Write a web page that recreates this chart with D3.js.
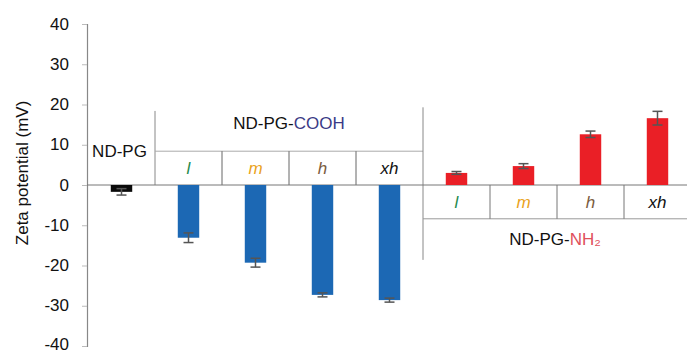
<!DOCTYPE html>
<html>
<head>
<meta charset="utf-8">
<script src="https://cdn.jsdelivr.net/npm/d3@7"></script>
<style>
body { margin: 0; background: #fff; }
svg { font-family: "Liberation Sans", Arial, sans-serif; }
</style>
</head>
<body>
<svg id="chart" width="687" height="353"></svg>
<script>
// data
var categories = ["ND-PG", "COOH-l", "COOH-m", "COOH-h", "COOH-xh", "NH2-l", "NH2-m", "NH2-h", "NH2-xh"];
var subLabels = ["", "l", "m", "h", "xh", "l", "m", "h", "xh"];
var values = [-1.7, -13.1, -19.3, -27.3, -28.6, 3.0, 4.7, 12.6, 16.6];
var errors = [0.8, 1.2, 1.1, 0.5, 0.5, 0.35, 0.6, 0.8, 1.7];
var yTicks = [40, 30, 20, 10, 0, -10, -20, -30, -40];

var barColor = {"ND-PG": "#0a0a0a", "COOH": "#1c68b4", "NH2": "#ea1f26"};
var labelColor = {"l": "#1e8a4c", "m": "#eaa21c", "h": "#7b5c40", "xh": "#111"};

var svg = d3.select("#chart");

var y = d3.scaleLinear().domain([-40, 40]).range([346, 24]);
var x = d3.scaleBand().domain(categories).range([88, 691]);
var bw = x.bandwidth() * 0.32;

// y axis
var yAxis = svg.append("g")
	.attr("transform", "translate(87,0)")
	.call(d3.axisLeft(y).tickValues(yTicks).tickSize(5).tickPadding(13)
		.tickFormat(function(d) { return String(d); }));
yAxis.select(".domain").attr("stroke", "#888").attr("stroke-width", 1.2);
yAxis.selectAll(".tick line").attr("stroke", "#bbb");
yAxis.selectAll(".tick text")
	.attr("font-size", 17)
	.attr("fill", "#111")
	.attr("dy", function(d) { return d === -40 ? "0.18em" : "0.3em"; })
	.attr("font-family", "Liberation Sans, Arial, sans-serif");

svg.append("text")
	.attr("transform", "translate(28," + y(3) + ") rotate(-90)")
	.attr("text-anchor", "middle")
	.attr("font-size", 17)
	.attr("fill", "#111")
	.text("Zeta potential (mV)");

// table lines (group labels)
var line = function(x1, y1, x2, y2, c) {
	svg.append("line")
		.attr("x1", x1).attr("y1", y1).attr("x2", x2).attr("y2", y2)
		.attr("stroke", c || "#888").attr("stroke-width", 1);
};
var xStart = x("COOH-l");
var xMid = x("NH2-l");
line(xStart, y(18.4), xStart, y(0));
line(xStart, y(8.4), xMid, y(8.4), "#aaa");
line(xMid, y(19.3), xMid, y(-18.6));
line(xMid, y(-8.4), 687, y(-8.4), "#999");
["COOH-m", "COOH-h", "COOH-xh"].forEach(function(k) {
	line(x(k), y(8.4), x(k), y(0), "#666");
});
["NH2-m", "NH2-h", "NH2-xh"].forEach(function(k) {
	line(x(k), y(0), x(k), y(-8.4), "#777");
});

// zero line
line(87, y(0), 687, y(0), "#777");

// bars
var group = function(k) { return k.split("-")[0] === "ND" ? "ND-PG" : k.split("-")[0]; };
svg.selectAll("rect.bar")
	.data(categories)
	.enter().append("rect")
	.attr("class", "bar")
	.attr("x", function(d) { return x(d) + x.bandwidth() / 2 - bw / 2; })
	.attr("width", bw)
	.attr("y", function(d, i) { return y(Math.max(0, values[i])); })
	.attr("height", function(d, i) { return Math.abs(y(values[i]) - y(0)); })
	.attr("fill", function(d) { return barColor[group(d)]; });

// error bars
var eb = svg.selectAll("g.err")
	.data(categories)
	.enter().append("g")
	.attr("class", "err")
	.attr("stroke", "#555")
	.attr("stroke-width", 1.5);
eb.append("line")
	.attr("x1", function(d) { return x(d) + x.bandwidth() / 2; })
	.attr("x2", function(d) { return x(d) + x.bandwidth() / 2; })
	.attr("y1", function(d, i) { return y(values[i] + errors[i]); })
	.attr("y2", function(d, i) { return y(values[i] - errors[i]); });
[1, -1].forEach(function(s) {
	eb.append("line")
		.attr("x1", function(d) { return x(d) + x.bandwidth() / 2 - 5; })
		.attr("x2", function(d) { return x(d) + x.bandwidth() / 2 + 5; })
		.attr("y1", function(d, i) { return y(values[i] + s * errors[i]); })
		.attr("y2", function(d, i) { return y(values[i] + s * errors[i]); });
});

// sub labels in the table cells
svg.selectAll("text.sub")
	.data(categories.slice(1))
	.enter().append("text")
	.attr("class", "sub")
	.attr("x", function(d) { return x(d) + x.bandwidth() / 2; })
	.attr("y", function(d) { return group(d) === "COOH" ? y(4.2) + 6 : y(-4.2) + 6; })
	.attr("text-anchor", "middle")
	.attr("font-size", 17)
	.attr("font-style", "italic")
	.attr("fill", function(d, i) { return labelColor[subLabels[i + 1]]; })
	.text(function(d, i) { return subLabels[i + 1]; });

// group titles
svg.append("text")
	.attr("x", x("ND-PG") + x.bandwidth() / 2 - 2)
	.attr("y", y(6.9))
	.attr("text-anchor", "middle")
	.attr("font-size", 17)
	.attr("fill", "#111")
	.text("ND-PG");

var t1 = svg.append("text")
	.attr("x", (xStart + xMid) / 2)
	.attr("y", y(13.8))
	.attr("text-anchor", "middle")
	.attr("font-size", 17)
	.attr("fill", "#111");
t1.append("tspan").text("ND-PG-");
t1.append("tspan").attr("fill", "#3b3a86").text("COOH");

var t2 = svg.append("text")
	.attr("x", (xMid + 691) / 2 - 2)
	.attr("y", y(-15))
	.attr("text-anchor", "middle")
	.attr("font-size", 17)
	.attr("fill", "#111");
t2.append("tspan").text("ND-PG-");
t2.append("tspan").attr("fill", "#e0505c").text("NH₂");
</script>
</body>
</html>
